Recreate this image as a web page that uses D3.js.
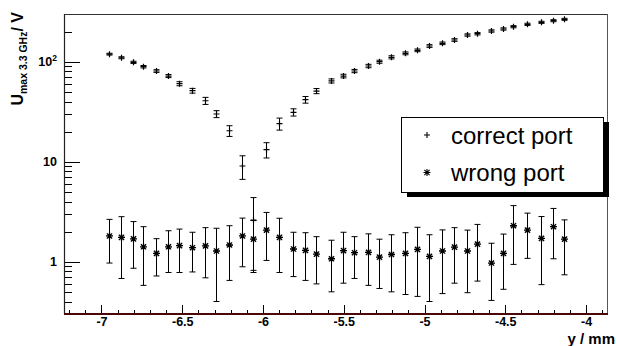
<!DOCTYPE html>
<html>
<head>
<meta charset="utf-8">
<script src="https://cdnjs.cloudflare.com/ajax/libs/d3/7.8.5/d3.min.js"></script>
<style>
  body { margin: 0; background: #fff; }
  svg { display: block; font-family: "Liberation Sans", Arial, Helvetica, sans-serif; }
</style>
</head>
<body>
<div id="chart"></div>
<script>
// scan position (mm)
const yPos = [-6.952, -6.881, -6.803, -6.741, -6.663, -6.586, -6.518, -6.441, -6.359, -6.291,
              -6.211, -6.132, -6.064, -5.983, -5.901, -5.812, -5.740, -5.672, -5.580, -5.503,
              -5.437, -5.352, -5.282, -5.207, -5.121, -5.048, -4.972, -4.893, -4.817, -4.739,
              -4.675, -4.588, -4.516, -4.450, -4.363, -4.280, -4.206, -4.134];

// U max at 3.3 GHz (V), correct port
const correctU = [119, 109.6, 98.6, 89.1, 80.7, 71.9, 60.3, 51.3, 40.7, 30.0,
                  20.4, 9.06, 2.6, 13.2, 24.0, 31.2, 41.7, 50.9, 64.3, 71.9,
                  80.7, 90.6, 100, 110.7, 121.3, 130, 143.6, 152.8, 164.8, 184.9,
                  190.5, 202.8, 212.4, 223.9, 236.6, 247.7, 257, 265.5];
const correctErr = [2.5, 2.5, 2.5, 2.5, 2.5, 2.5, 2.8, 2.8, 3.3, 2.4,
                    2.5, 2.4, 1.78, 2.3, 3.3, 2.6, 3.2, 3.0, 3.0, 3.0,
                    3.0, 3.5, 3.5, 4.0, 4.0, 4.0, 4.5, 4.5, 5.0, 5.0,
                    5.0, 5.5, 5.5, 5.5, 6.0, 6.0, 6.0, 6.0];

// wrong port
const wrongU = [1.81, 1.75, 1.69, 1.41, 1.21, 1.41, 1.45, 1.38, 1.44, 1.28,
                1.47, 1.81, 1.68, 2.07, 1.75, 1.34, 1.30, 1.19, 1.07, 1.29,
                1.23, 1.24, 1.11, 1.18, 1.21, 1.33, 1.13, 1.28, 1.40, 1.28,
                1.50, 0.97, 1.21, 2.29, 2.07, 1.71, 2.24, 1.68];
const wrongErr = [0.84, 1.07, 0.83, 0.83, 0.49, 0.63, 0.67, 0.59, 0.75, 0.88,
                  0.82, 0.92, 0.90, 1.04, 0.97, 0.63, 0.65, 0.59, 0.57, 0.68,
                  0.55, 0.66, 0.57, 0.68, 0.74, 0.88, 0.73, 0.80, 0.79, 0.79,
                  0.86, 0.56, 0.68, 1.35, 0.99, 1.12, 1.17, 0.94];

const xTicks = [-7, -6.5, -6, -5.5, -5, -4.5, -4];
const yTicks = [1, 10, 100];
const yTickLabels = ['1', '10', '10^2'];
const legendLabels = ['correct port', 'wrong port'];

class ScanChart {
    constructor() {
        this.margin = { top: 14, right: 9, bottom: 32, left: 64 };
        this.width = 617 - this.margin.left - this.margin.right;
        this.height = 346 - this.margin.top - this.margin.bottom;
        this.x = d3.scaleLinear().domain([-7.232, -3.864]).range([0, this.width]);
        this.y = d3.scaleLog().domain([0.3, 300]).range([this.height, 0]);
    }

    draw() {
        const svg = d3.select('#chart').append('svg')
            .attr('width', 617)
            .attr('height', 346);
        svg.append('rect').attr('width', 617).attr('height', 346).attr('fill', '#fff');

        this.g = svg.append('g')
            .attr('transform', `translate(${this.margin.left},${this.margin.top})`);

        this.drawAxes();
        this.drawSeries(correctU, correctErr, 'plus', 1.2);
        this.drawSeries(wrongU, wrongErr, 'star', 1.3);
        this.drawFrame();
        this.drawLegend();
        this.drawTitles(svg);
    }

    drawAxes() {
        const g = this.g;

        // minor x ticks every 0.1
        const xMinor = d3.range(-72, -38).filter(i => i % 5 !== 0).map(i => i / 10);
        g.append('g')
            .attr('transform', `translate(0,${this.height})`)
            .call(d3.axisBottom(this.x).tickValues(xMinor).tickSize(-4.5).tickFormat(''))
            .call(a => a.select('.domain').remove());

        const xAxis = g.append('g')
            .attr('transform', `translate(0,${this.height})`)
            .call(d3.axisBottom(this.x).tickValues(xTicks).tickSizeInner(-9).tickSizeOuter(0)
                .tickPadding(3).tickFormat(d => d3.format('')(d).replace('−', '-')));
        xAxis.select('.domain').remove();
        xAxis.selectAll('text')
            .attr('font-size', 12.5).attr('font-weight', 'bold').attr('fill', '#000')
            .attr('font-family', '"Liberation Sans", Arial, sans-serif');

        // minor y ticks 2..9 per decade
        const yMinor = [];
        [0.1, 1, 10, 100].forEach(dec => {
            for (let k = 2; k <= 9; k++) {
                const v = k * dec;
                if (v > 0.3 + 1e-9 && v < 300 - 1e-9) yMinor.push(v);
            }
        });
        g.append('g')
            .call(d3.axisLeft(this.y).tickValues(yMinor).tickSize(-8).tickFormat(''))
            .call(a => a.select('.domain').remove());

        const yAxis = g.append('g')
            .call(d3.axisLeft(this.y).tickValues(yTicks).tickSizeInner(-16).tickSizeOuter(0)
                .tickPadding(7).tickFormat(''));
        yAxis.select('.domain').remove();
        yAxis.selectAll('.tick text').each(function (d, i) {
            const t = d3.select(this)
                .attr('font-size', 12.5).attr('font-weight', 'bold').attr('fill', '#000')
                .attr('font-family', '"Liberation Sans", Arial, sans-serif');
            const parts = yTickLabels[i].split('^');
            t.append('tspan').text(parts[0]);
            if (parts[1]) {
                t.append('tspan').attr('dy', -5).attr('font-size', 8.5).text(parts[1]);
            }
        });

        g.selectAll('.tick line').attr('stroke', '#000').attr('shape-rendering', 'crispEdges');
    }

    marker(type, cx, cy) {
        if (type === 'plus') {
            return `M${cx - 3},${cy}h6M${cx},${cy - 3}v6`;
        }
        return `M${cx - 3.5},${cy}h7M${cx},${cy - 3.5}v7` +
               `M${cx - 2.6},${cy - 2.6}l5.2,5.2M${cx - 2.6},${cy + 2.6}l5.2,-5.2`;
    }

    drawSeries(values, errors, type, markerWidth) {
        const data = yPos.map((p, i) => ({ p, v: values[i], e: errors[i] }));
        const g = this.g.append('g');
        const lo = this.y.domain()[0];

        g.selectAll('path.err')
            .data(data)
            .enter()
            .append('path')
            .attr('class', 'err')
            .attr('fill', 'none')
            .attr('stroke', '#000')
            .attr('stroke-width', 1)
            .attr('d', d => {
                const cx = Math.round(this.x(d.p)) + 0.5;
                const top = this.y(d.v + d.e);
                const bot = this.y(Math.max(d.v - d.e, lo));
                return `M${cx},${top}V${bot}M${cx - 3},${top}h6M${cx - 3},${bot}h6`;
            });

        g.selectAll('path.mk')
            .data(data)
            .enter()
            .append('path')
            .attr('class', 'mk')
            .attr('fill', 'none')
            .attr('stroke', '#000')
            .attr('stroke-width', markerWidth)
            .attr('d', d => this.marker(type, Math.round(this.x(d.p)) + 0.5, this.y(d.v)));
    }

    drawFrame() {
        const g = this.g;
        const w = this.width, h = this.height;
        g.append('line').attr('x1', 0).attr('x2', w).attr('y1', 0.5).attr('y2', 0.5)
            .attr('stroke', '#333').attr('stroke-width', 1.2);
        g.append('line').attr('x1', 0.5).attr('x2', 0.5).attr('y1', 0).attr('y2', h)
            .attr('stroke', '#222').attr('stroke-width', 1.2);
        g.append('line').attr('x1', w - 0.5).attr('x2', w - 0.5).attr('y1', 0).attr('y2', h)
            .attr('stroke', '#d02020').attr('stroke-width', 1);
        g.append('line').attr('x1', 0).attr('x2', w).attr('y1', h).attr('y2', h)
            .attr('stroke', '#4a0808').attr('stroke-width', 2);
    }

    drawLegend() {
        const lg = this.g.append('g')
            .attr('transform', `translate(${401 - this.margin.left},${117 - this.margin.top})`);
        const bw = 202, bh = 75;

        lg.append('rect').attr('x', 6).attr('y', 5).attr('width', bw).attr('height', bh)
            .attr('fill', '#000');
        lg.append('rect').attr('x', 0.5).attr('y', 0.5).attr('width', bw).attr('height', bh)
            .attr('fill', '#fff').attr('stroke', '#000').attr('stroke-width', 1);

        const types = ['plus', 'star'];
        legendLabels.forEach((label, i) => {
            const cy = 18 + i * 37.5;
            lg.append('path')
                .attr('d', this.marker(types[i], 26, cy))
                .attr('fill', 'none').attr('stroke', '#000').attr('stroke-width', 1.1);
            lg.append('text')
                .attr('x', 50)
                .attr('y', cy + 8.5)
                .attr('font-size', 24)
                .attr('fill', '#000')
                .text(label);
        });
    }

    drawTitles(svg) {
        svg.append('text')
            .attr('x', 615)
            .attr('y', 343.5)
            .attr('text-anchor', 'end')
            .attr('font-size', 15)
            .attr('font-weight', 'bold')
            .text('y / mm');

        const t = svg.append('text')
            .attr('transform', 'translate(22.5,12) rotate(-90)')
            .attr('text-anchor', 'end')
            .attr('font-size', 16)
            .attr('font-weight', 'bold');
        t.append('tspan').text('U');
        t.append('tspan').attr('font-size', 10.5).attr('dy', 4).text('max 3.3 GHz');
        t.append('tspan').attr('dy', -4).text('/ V');
    }
}

document.addEventListener('DOMContentLoaded', () => {
    const chart = new ScanChart();
    chart.draw();
});
</script>
</body>
</html>
